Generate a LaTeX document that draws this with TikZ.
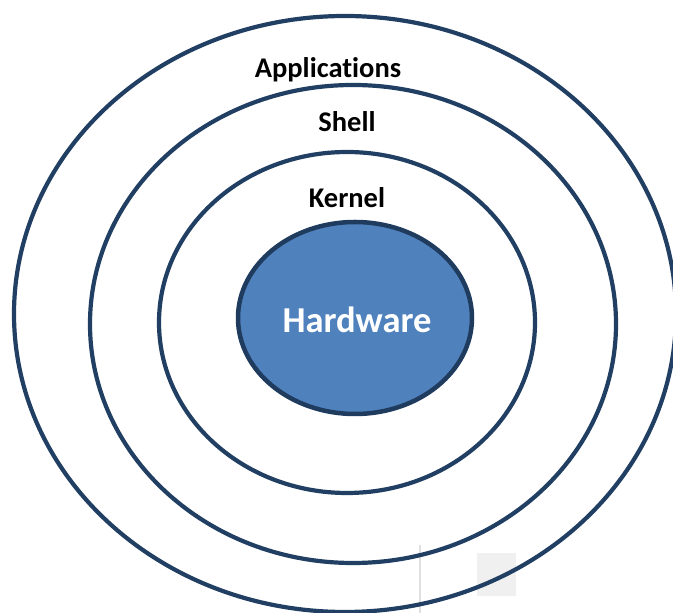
\documentclass[tikz,border=0pt]{standalone}
\usepackage{fontspec}
\setmainfont{Carlito}[Ligatures=NoCommon]
\definecolor{ringc}{HTML}{213F63}
\definecolor{hwfill}{HTML}{4F81BD}
\definecolor{hwline}{HTML}{1F3B5E}
\tikzset{
  ring/.style={draw=ringc, line width=4.2pt},
  lab/.style={font=\bfseries\fontsize{28.5}{32}\selectfont, text=black, inner sep=0pt},
}
\begin{document}
\begin{tikzpicture}[x=1pt,y=1pt]
\useasboundingbox (0,0) rectangle (673,613);
\clip (0,0) rectangle (673,613);
% faint artifacts
\fill[black!6] (477,17) rectangle (516,60);
\draw[black!12, line width=1.5pt] (420,0) -- (420,68);
% rings
\draw[ring] (345,299) ellipse [x radius=331, y radius=298];
\draw[ring] (353,289) ellipse [x radius=263, y radius=239];
\draw[ring] (347,290.5) ellipse [x radius=188, y radius=170.5];
\draw[fill=hwfill, draw=hwline, line width=4.5pt] (355,295) ellipse [x radius=117, y radius=96];
% labels
\node[lab] (apps) at (328,543) {Applications};
\node[lab] (shell) at (347,491) {Shell};
\node[lab] (kernel) at (347,415) {Kernel};
\node[lab, text=white, font=\bfseries\fontsize{36.5}{40}\selectfont] (hw) at (357,293) {Hardware};
\end{tikzpicture}
\end{document}
